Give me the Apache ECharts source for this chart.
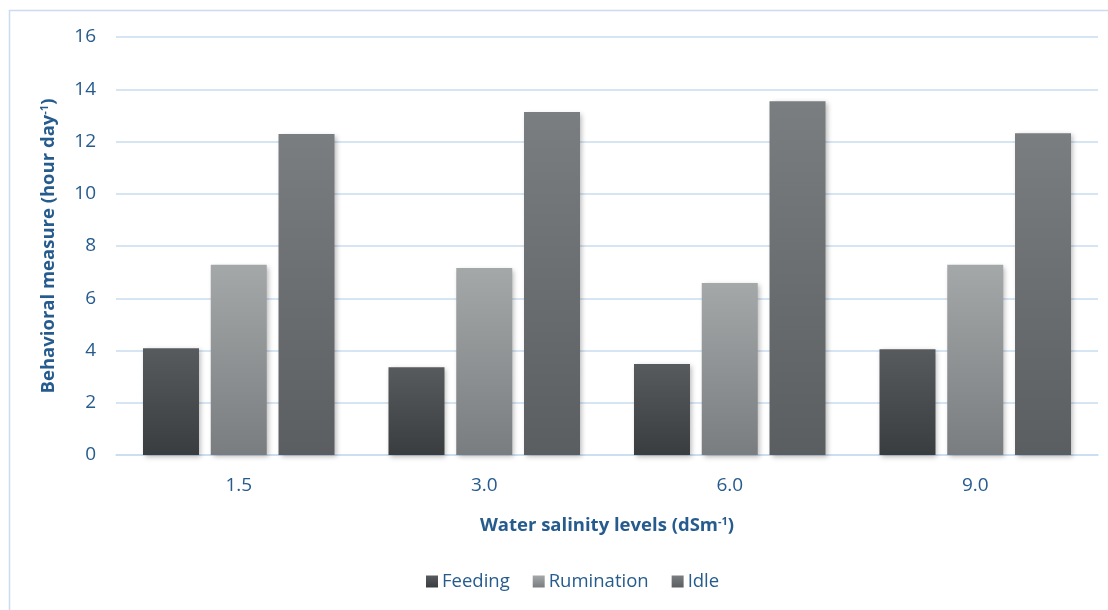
<!DOCTYPE html>
<html>
<head>
<meta charset="utf-8">
<script src="https://cdn.jsdelivr.net/npm/echarts@6/dist/echarts.min.js"></script>
<style>
  html, body { margin: 0; padding: 0; background: #fff; }
  #chart { width: 1108px; height: 610px; }
</style>
</head>
<body>
<div id="chart"></div>
<script>
// Salinity levels (dS m-1) on the category axis
const categories = ['1.5', '3.0', '6.0', '9.0'];
// Time spent on each behaviour, hours per day
const feeding = [4.09, 3.36, 3.48, 4.05];
const rumination = [7.28, 7.16, 6.58, 7.28];
const idle = [12.29, 13.13, 13.54, 12.32];

const textBlue = '#265b8e';
const gridBlue = '#c9dcf0';
const font = '"Open Sans", "Noto Sans", sans-serif';

function grad(top, bottom) {
  return new echarts.graphic.LinearGradient(0, 0, 0, 1, [
    { offset: 0, color: top },
    { offset: 1, color: bottom }
  ]);
}

function barSeries(name, data, top, bottom) {
  return {
    name: name,
    type: 'bar',
    data: data,
    barWidth: 56,
    barGap: '21%',
    itemStyle: {
      color: grad(top, bottom),
      shadowColor: 'rgba(0,0,0,0.28)',
      shadowBlur: 5,
      shadowOffsetX: 2,
      shadowOffsetY: 2
    }
  };
}

// Axis title with a superscript exponent
const titleRich = {
  a: { fontSize: 18.5, fontWeight: 'bold', color: textBlue, fontFamily: font, lineHeight: 24, verticalAlign: 'bottom' },
  s: { fontSize: 11, fontWeight: 'bold', color: textBlue, fontFamily: font, lineHeight: 24, verticalAlign: 'bottom', padding: [0, 0, 8, 0] }
};

const chart = echarts.init(document.getElementById('chart'), null, { renderer: 'canvas' });
chart.setOption({
  animation: false,
  backgroundColor: '#fff',
  textStyle: { fontFamily: font },
  graphic: [{
    type: 'rect',
    shape: { x: 9.5, y: 10.5, width: 1120, height: 620 },
    style: { fill: 'none', stroke: gridBlue, lineWidth: 1.5 },
    silent: true
  }],
  grid: { left: 116, right: 10, top: 37, bottom: 155 },
  legend: {
    bottom: 14,
    left: 421,
    itemWidth: 12,
    itemHeight: 12,
    itemGap: 23,
    icon: 'rect',
    textStyle: { color: textBlue, fontSize: 18.5, fontFamily: font, padding: [0, 0, 0, -1] },
    data: ['Feeding', 'Rumination', 'Idle']
  },
  xAxis: {
    type: 'category',
    data: categories,
    axisLine: { lineStyle: { color: gridBlue, width: 1.5 } },
    axisTick: { show: false },
    axisLabel: { color: textBlue, fontSize: 19, margin: 21, fontFamily: font },
    name: '{a|Water salinity levels (dSm}{s|-1}{a|)}',
    nameLocation: 'middle',
    nameGap: 56,
    nameTextStyle: { rich: titleRich }
  },
  yAxis: {
    type: 'value',
    min: 0,
    max: 16,
    interval: 2,
    axisLine: { show: false },
    axisTick: { show: false },
    splitLine: { lineStyle: { color: gridBlue, width: 1.5 } },
    axisLabel: { color: textBlue, fontSize: 19, margin: 20, fontFamily: font },
    name: '{a|Behavioral measure (hour day}{s|-1}{a|)}',
    nameLocation: 'middle',
    nameGap: 58,
    nameTextStyle: { rich: titleRich }
  },
  series: [
    barSeries('Feeding', feeding, '#585b5d', '#3a3d40'),
    barSeries('Rumination', rumination, '#a5a8a9', '#7a7d7f'),
    barSeries('Idle', idle, '#7b7e80', '#5b5e60')
  ]
});
</script>
</body>
</html>
